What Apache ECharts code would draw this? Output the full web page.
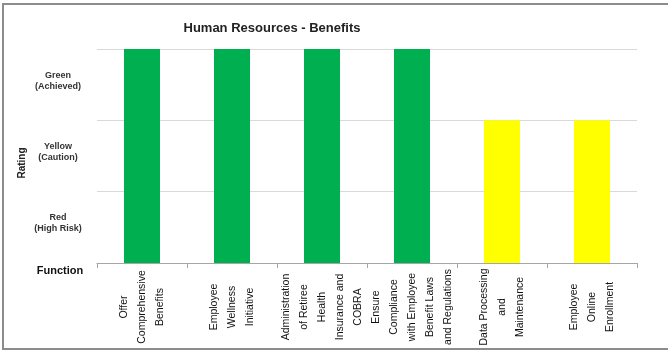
<!DOCTYPE html>
<html>
<head>
<meta charset="utf-8">
<script src="https://cdn.jsdelivr.net/npm/echarts@6/dist/echarts.min.js"></script>
<style>
  html, body { margin: 0; padding: 0; background: #fff; }
  #chart { width: 668px; height: 352px; }
</style>
</head>
<body>
<div id="chart"></div>
<script>
const functions = [
    'Offer\nComprehensive\nBenefits',
    'Employee\nWellness\nInitiative',
    'Administration\nof Retiree\nHealth\nInsurance and\nCOBRA',
    'Ensure\nCompliance\nwith Employee\nBenefit Laws\nand Regulations',
    'Data Processing\nand\nMaintenance',
    'Employee\nOnline\nEnrollment',
];
// 3 = Green, 2 = Yellow, 1 = Red
const ratings = [3, 3, 3, 3, 2, 2];
const ratingLabels = ['Red\n(High Risk)', 'Yellow\n(Caution)', 'Green\n(Achieved)'];
const ratingColors = { 1: '#FF0000', 2: '#FFFF00', 3: '#00B050' };

const font = '"Liberation Sans", Arial, sans-serif';
const chart = echarts.init(document.getElementById('chart'));

chart.setOption({
    animation: false,
    textStyle: { fontFamily: font },
    title: {
        text: 'Human Resources - Benefits',
        left: 267,
        top: 17,
        textAlign: 'center',
        textStyle: { fontSize: 13, fontWeight: 'bold', color: '#222' },
    },
    grid: { left: 97, right: 31, top: 49, bottom: 89 },
    xAxis: {
        type: 'category',
        data: functions,
        axisLine: { lineStyle: { color: '#a6a6a6' } },
        axisTick: { show: true, length: 5, lineStyle: { color: '#a6a6a6' } },
        axisLabel: {
            interval: 0,
            rotate: 90,
            align: 'center',
            verticalAlign: 'middle',
            margin: 44,
            fontSize: 10.5,
            lineHeight: 18,
            color: '#111',
        },
    },
    yAxis: [
        {
            type: 'value',
            min: 0,
            max: 3,
            interval: 1,
            axisLabel: { show: false },
            axisLine: { show: false },
            axisTick: { show: false },
            splitLine: { lineStyle: { color: '#d9d9d9' } },
        },
        {
            type: 'category',
            position: 'left',
            data: ratingLabels,
            axisLine: { show: false },
            axisTick: { show: false },
            splitLine: { show: false },
            axisLabel: {
                align: 'center',
                margin: 39,
                fontSize: 9,
                fontWeight: 'bold',
                lineHeight: 11,
                color: '#333',
                // small empty line below lifts the label a few px, as in the original
                formatter: (v) => v + '\n{s|}',
                rich: { s: { lineHeight: 8, fontSize: 1 } },
            },
        },
    ],
    series: [
        {
            type: 'bar',
            barWidth: 36,
            data: ratings.map((v) => ({ value: v, itemStyle: { color: ratingColors[v] } })),
        },
    ],
    graphic: [
        {
            type: 'rect',
            shape: { x: 3, y: 4, width: 680, height: 345 },
            style: { fill: 'none', stroke: '#8c8c8c', lineWidth: 2 },
            silent: true,
        },
        {
            type: 'text',
            x: 22,
            y: 163,
            rotation: Math.PI / 2,
            style: {
                text: 'Rating',
                font: 'bold 10px ' + font,
                fill: '#222',
                align: 'center',
                verticalAlign: 'middle',
            },
        },
        {
            type: 'text',
            x: 60,
            y: 271,
            style: {
                text: 'Function',
                font: 'bold 11px ' + font,
                fill: '#111',
                align: 'center',
                verticalAlign: 'middle',
            },
        },
    ],
});
</script>
</body>
</html>
